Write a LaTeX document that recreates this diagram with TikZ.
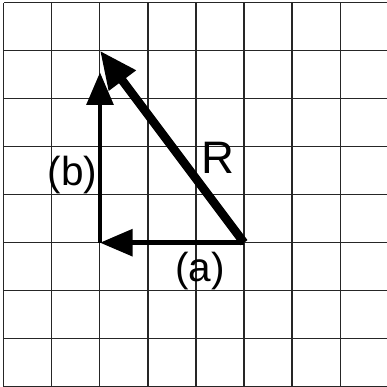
\documentclass[tikz,border=0pt]{standalone}
\usepackage{fontspec}
\setmainfont{Liberation Sans}
\usetikzlibrary{arrows.meta}

\begin{document}
\begin{tikzpicture}[
    gitter/.style={draw=black!85, line width=0.6pt},
    vek/.style={line width=0.1cm, -{Triangle[length=0.68cm, width=0.55cm]}},
    resultierend/.style={line width=0.18cm, -{Triangle[length=0.78cm, width=0.66cm]}},
    lbl/.style={font=\fontsize{24}{28}\selectfont, inner sep=0pt}
  ]
  \useasboundingbox (-0.083,-0.006) rectangle (7.979,8.056);
  \draw[gitter] (0,0) grid (7.979,8);

  \coordinate (start) at (5,3);
  \coordinate (ecke) at (2,3);
  \coordinate (spitze) at (2,7);
  \coordinate (bspitze) at (2,6.55);

  % Komponenten und Resultierende
  \draw[vek] (start) -- (ecke);
  \draw[vek] (ecke) -- (bspitze);
  \draw[resultierend] (start) -- (spitze);

  \node[lbl, font=\fontsize{27}{30}\selectfont] (rlab) at (4.45,4.76) {R};
  \node[lbl] (blab) at (1.43,4.41) {(b)};
  \node[lbl] (alab) at (4.08,2.41) {(a)};
\end{tikzpicture}
\end{document}
